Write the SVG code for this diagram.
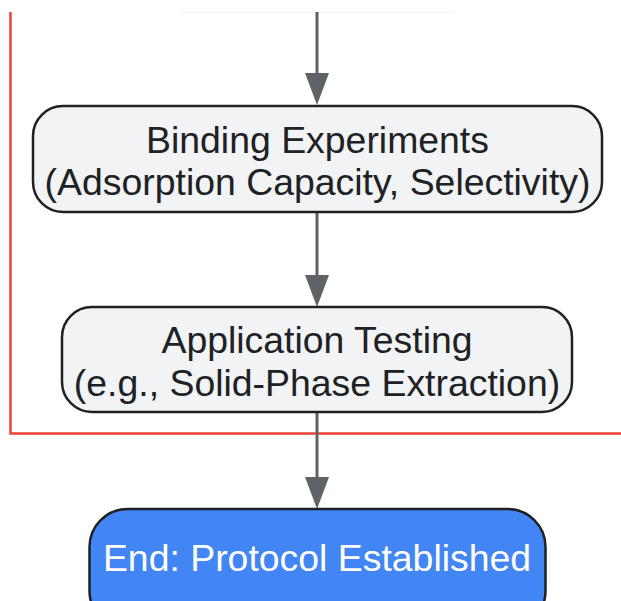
<svg xmlns="http://www.w3.org/2000/svg" width="621" height="601" viewBox="0 0 621 601">
<style>
.node rect{fill:#f1f3f4;stroke:#202124;stroke-width:2.5}
.node text{font-family:"Liberation Sans",Arial,sans-serif;font-size:37.4px;fill:#202124;text-anchor:middle}
#end rect{fill:#4285f4}
#end text{fill:#ffffff}
.edge{stroke:#5f6368;stroke-width:3;fill:none}
.head{fill:#5f6368}
</style>
<rect width="621" height="601" fill="#ffffff"/>
<g id="cluster">
<line x1="181" y1="12.3" x2="455" y2="12.3" stroke="#f0f0f0" stroke-width="1"/>
<polyline points="10.5,12 10.5,433.5 621,433.5" fill="none" stroke="#ea4335" stroke-width="2.5"/>
</g>
<g id="connectors">
<line class="edge" x1="317" y1="12" x2="317" y2="76"/>
<polygon class="head" points="305,73 329,73 317,105"/>
<line class="edge" x1="317" y1="212" x2="317" y2="278"/>
<polygon class="head" points="305,275 329,275 317,307"/>
<line class="edge" x1="317" y1="412" x2="317" y2="480"/>
<polygon class="head" points="305,477 329,477 317,509"/>
</g>
<g id="binding" class="node">
<rect x="33" y="106" width="569" height="106" rx="30" ry="30"/>
<text x="317.5" y="153">Binding Experiments</text>
<text x="317.5" y="195">(Adsorption Capacity, Selectivity)</text>
</g>
<g id="application" class="node">
<rect x="62" y="307" width="510" height="105" rx="30" ry="30"/>
<text x="317" y="353">Application Testing</text>
<text x="317" y="396">(e.g., Solid-Phase Extraction)</text>
</g>
<g id="end" class="node">
<rect x="89.5" y="509" width="456" height="120" rx="38" ry="38"/>
<text x="317" y="571">End: Protocol Established</text>
</g>
</svg>
